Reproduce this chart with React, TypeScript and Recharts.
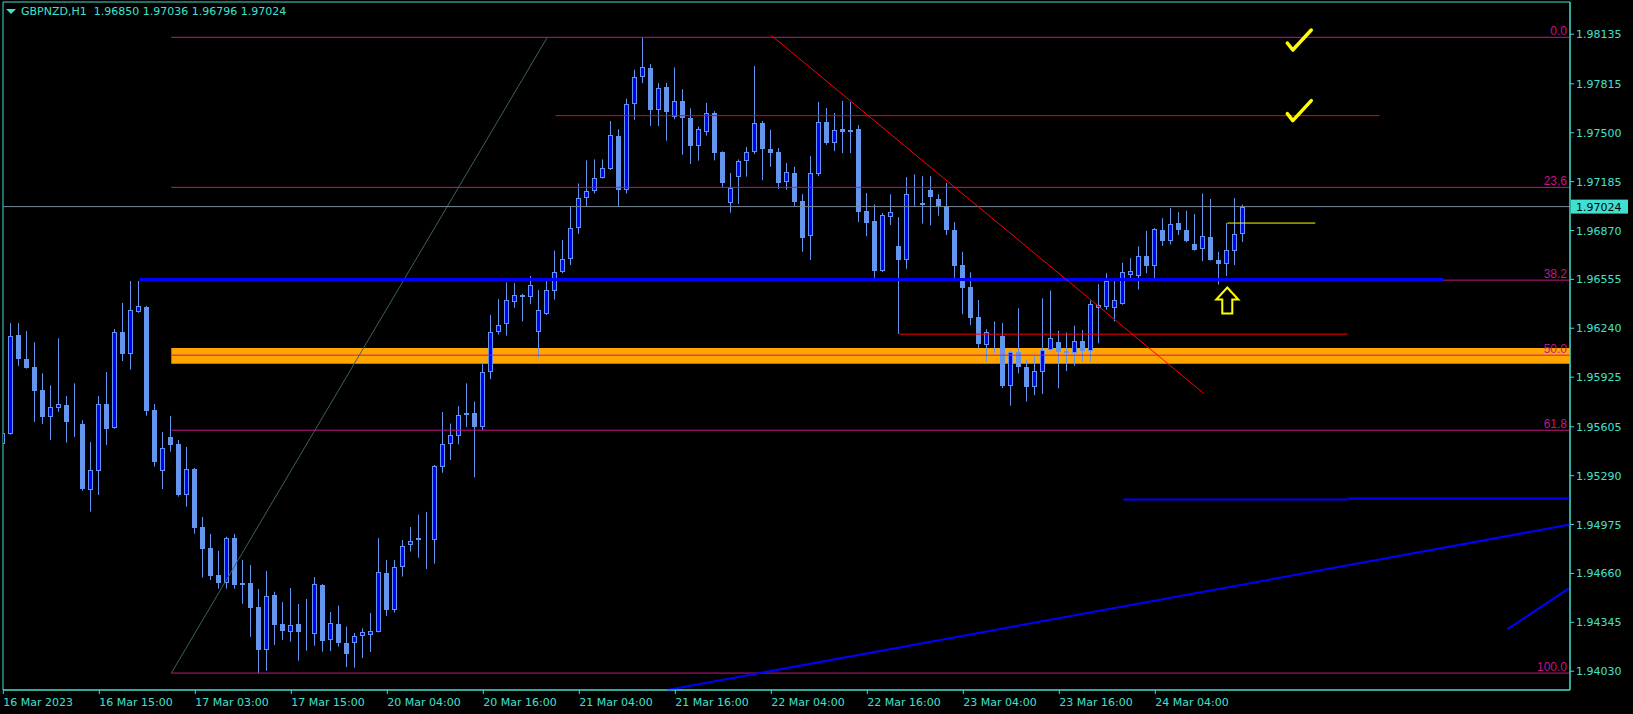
import React from 'react'
import { ComposedChart, Bar, XAxis, YAxis, ReferenceLine, ReferenceArea, ReferenceDot } from 'recharts'

// GBPNZD H1, 156 bars
const openPrices = [
  1.95492, 1.95561, 1.96197, 1.96042, 1.95990, 1.95842, 1.95670, 1.95728, 1.95746, 1.95628,
  1.95623, 1.95200, 1.95322, 1.95752, 1.95599, 1.96216, 1.96076, 1.96347, 1.96377, 1.95711,
  1.95322, 1.95539, 1.95494, 1.95168, 1.95333, 1.94959, 1.94824, 1.94650, 1.94600, 1.94888,
  1.94598, 1.94598, 1.94444, 1.94169, 1.94519, 1.94334, 1.94285, 1.94334, 1.94274, 1.94272,
  1.94586, 1.94231, 1.94334, 1.94212, 1.94209, 1.94259, 1.94265, 1.94285, 1.94664, 1.94423,
  1.94699, 1.94843, 1.94886, 1.94882, 1.94878, 1.95347, 1.95494, 1.95544, 1.95679, 1.95697,
  1.95606, 1.95955, 1.96219, 1.96269, 1.96410, 1.96457, 1.96442, 1.96213, 1.96331, 1.96483,
  1.96601, 1.96688, 1.96888, 1.97082, 1.97123, 1.97211, 1.97264, 1.97478, 1.97129, 1.97683,
  1.97862, 1.97915, 1.97649, 1.97792, 1.97601, 1.97707, 1.97595, 1.97417, 1.97505, 1.97625,
  1.97375, 1.97050, 1.97217, 1.97317, 1.97378, 1.97563, 1.97395, 1.97375, 1.97182, 1.97241,
  1.97061, 1.96833, 1.97234, 1.97569, 1.97437, 1.97525, 1.97505, 1.97525, 1.96997, 1.96929,
  1.96609, 1.96958, 1.96768, 1.96677, 1.97103, 1.97032, 1.97132, 1.97073, 1.97026, 1.96873,
  1.96648, 1.96507, 1.96313, 1.96134, 1.96203, 1.96193, 1.95870, 1.96087, 1.95993, 1.95864,
  1.95961, 1.96102, 1.96149, 1.96094, 1.96080, 1.96158, 1.96096, 1.96369, 1.96374, 1.96369,
  1.96398, 1.96586, 1.96580, 1.96706, 1.96641, 1.96873, 1.96800, 1.96920, 1.96871, 1.96786,
  1.96748, 1.96829, 1.96683, 1.96654, 1.96741, 1.96850,
]
const highPrices = [
  1.95757, 1.96272, 1.96272, 1.96222, 1.96150, 1.95950, 1.95872, 1.96175, 1.95804, 1.95885,
  1.95647, 1.95507, 1.95804, 1.95958, 1.96235, 1.96403, 1.96545, 1.96545, 1.96384, 1.95752,
  1.95572, 1.95675, 1.95520, 1.95475, 1.95340, 1.95024, 1.94914, 1.94805, 1.94897, 1.94914,
  1.94747, 1.94714, 1.94560, 1.94676, 1.94542, 1.94476, 1.94566, 1.94463, 1.94495, 1.94637,
  1.94592, 1.94412, 1.94453, 1.94317, 1.94276, 1.94306, 1.94405, 1.94888, 1.94747, 1.94747,
  1.94876, 1.94959, 1.95039, 1.95056, 1.95359, 1.95700, 1.95626, 1.95738, 1.95885, 1.95767,
  1.96019, 1.96326, 1.96427, 1.96536, 1.96530, 1.96462, 1.96577, 1.96487, 1.96545, 1.96741,
  1.96809, 1.97026, 1.97173, 1.97322, 1.97328, 1.97328, 1.97576, 1.97522, 1.97719, 1.97906,
  1.98112, 1.97942, 1.97819, 1.97821, 1.97921, 1.97780, 1.97657, 1.97540, 1.97692, 1.97639,
  1.97380, 1.97241, 1.97328, 1.97408, 1.97930, 1.97576, 1.97519, 1.97402, 1.97305, 1.97281,
  1.97105, 1.97349, 1.97698, 1.97659, 1.97627, 1.97705, 1.97698, 1.97549, 1.97112, 1.97038,
  1.96983, 1.97103, 1.96956, 1.97214, 1.97232, 1.97220, 1.97220, 1.97103, 1.97176, 1.96924,
  1.96733, 1.96601, 1.96422, 1.96234, 1.96284, 1.96272, 1.96096, 1.96369, 1.96037, 1.96061,
  1.96433, 1.96483, 1.96225, 1.96213, 1.96257, 1.96228, 1.96419, 1.96524, 1.96595, 1.96545,
  1.96662, 1.96692, 1.96768, 1.96867, 1.96886, 1.96950, 1.97014, 1.96988, 1.96997, 1.96976,
  1.97108, 1.97073, 1.96733, 1.96918, 1.97079, 1.97036,
]
const lowPrices = [
  1.95359, 1.95554, 1.95997, 1.95980, 1.95636, 1.95623, 1.95520, 1.95702, 1.95503, 1.95541,
  1.95193, 1.95058, 1.95166, 1.95488, 1.95593, 1.96029, 1.95973, 1.96340, 1.95677, 1.95348,
  1.95204, 1.95445, 1.95155, 1.95090, 1.94916, 1.94633, 1.94618, 1.94562, 1.94562, 1.94562,
  1.94465, 1.94252, 1.94017, 1.94033, 1.94199, 1.94231, 1.94220, 1.94098, 1.94162, 1.94194,
  1.94156, 1.94160, 1.94189, 1.94057, 1.94053, 1.94115, 1.94154, 1.94280, 1.94386, 1.94408,
  1.94640, 1.94801, 1.94761, 1.94689, 1.94723, 1.95309, 1.95391, 1.95492, 1.95604, 1.95280,
  1.95582, 1.95911, 1.96199, 1.96193, 1.96372, 1.96284, 1.96395, 1.96052, 1.96325, 1.96425,
  1.96595, 1.96648, 1.96848, 1.97026, 1.97108, 1.97205, 1.97260, 1.97026, 1.97108, 1.97583,
  1.97819, 1.97543, 1.97543, 1.97449, 1.97587, 1.97358, 1.97299, 1.97320, 1.97481, 1.97322,
  1.97147, 1.96985, 1.97041, 1.97217, 1.97363, 1.97194, 1.97281, 1.97137, 1.97132, 1.97029,
  1.96733, 1.96680, 1.97220, 1.97422, 1.97381, 1.97369, 1.97369, 1.96924, 1.96833, 1.96565,
  1.96603, 1.96906, 1.96204, 1.96624, 1.97029, 1.96915, 1.96903, 1.96965, 1.96841, 1.96565,
  1.96331, 1.96260, 1.96110, 1.96023, 1.96081, 1.95855, 1.95741, 1.95949, 1.95767, 1.95808,
  1.95817, 1.96095, 1.95853, 1.95964, 1.95999, 1.96023, 1.96023, 1.96143, 1.96360, 1.96284,
  1.96392, 1.96565, 1.96489, 1.96595, 1.96545, 1.96771, 1.96780, 1.96841, 1.96795, 1.96740,
  1.96673, 1.96676, 1.96521, 1.96577, 1.96648, 1.96796,
]
const closePrices = [
  1.95563, 1.96188, 1.96042, 1.95986, 1.95838, 1.95670, 1.95731, 1.95750, 1.95636, 1.95630,
  1.95202, 1.95325, 1.95750, 1.95591, 1.96214, 1.96074, 1.96356, 1.96382, 1.95707, 1.95378,
  1.95466, 1.95490, 1.95166, 1.95331, 1.94955, 1.94820, 1.94646, 1.94600, 1.94888, 1.94588,
  1.94588, 1.94439, 1.94169, 1.94513, 1.94330, 1.94291, 1.94326, 1.94285, 1.94276, 1.94590,
  1.94227, 1.94341, 1.94212, 1.94138, 1.94259, 1.94283, 1.94289, 1.94669, 1.94423, 1.94699,
  1.94834, 1.94872, 1.94876, 1.94884, 1.95354, 1.95494, 1.95553, 1.95679, 1.95697, 1.95604,
  1.95961, 1.96219, 1.96263, 1.96425, 1.96457, 1.96442, 1.96521, 1.96360, 1.96487, 1.96601,
  1.96688, 1.96888, 1.97082, 1.97123, 1.97211, 1.97270, 1.97484, 1.97129, 1.97683, 1.97862,
  1.97921, 1.97649, 1.97786, 1.97636, 1.97707, 1.97598, 1.97413, 1.97522, 1.97625, 1.97372,
  1.97179, 1.97144, 1.97320, 1.97378, 1.97563, 1.97393, 1.97372, 1.97179, 1.97246, 1.97056,
  1.96820, 1.97241, 1.97569, 1.97431, 1.97519, 1.97502, 1.97516, 1.96991, 1.96920, 1.96609,
  1.96970, 1.96988, 1.96677, 1.97103, 1.97108, 1.97047, 1.97085, 1.97026, 1.96873, 1.96639,
  1.96501, 1.96307, 1.96140, 1.96213, 1.96205, 1.95867, 1.96087, 1.95993, 1.95864, 1.95964,
  1.96102, 1.96175, 1.96090, 1.96078, 1.96161, 1.96096, 1.96395, 1.96393, 1.96545, 1.96419,
  1.96603, 1.96609, 1.96706, 1.96639, 1.96877, 1.96800, 1.96915, 1.96871, 1.96800, 1.96744,
  1.96833, 1.96680, 1.96656, 1.96744, 1.96850, 1.97024,
]

const timeTickBars = [0, 12, 24, 36, 48, 60, 72, 84, 96, 108, 120, 132, 144]
const timeTickLabels = [
  '16 Mar 2023', '16 Mar 15:00', '17 Mar 03:00', '17 Mar 15:00', '20 Mar 04:00',
  '20 Mar 16:00', '21 Mar 04:00', '21 Mar 16:00', '22 Mar 04:00', '22 Mar 16:00',
  '23 Mar 04:00', '23 Mar 16:00', '24 Mar 04:00',
]
const priceTicks = [
  1.9403, 1.94345, 1.9466, 1.94975, 1.9529, 1.95605, 1.95925,
  1.9624, 1.96555, 1.9687, 1.97185, 1.975, 1.97815, 1.98135,
]

// fibonacci retracement drawn from the 17 Mar low to the 21 Mar high
const fibLevels = [0, 23.6, 38.2, 50, 61.8, 100]
const fibLabels = ['0.0', '23,6', '38.2', '50.0', '61.8', '100.0']
const fibHigh = 1.98115
const fibLow = 1.94018
const fibStartBar = 21
const fibEndBar = 68

// hand drawn objects
const orangeZone = [1.96011, 1.96113]
const blueLevel = 1.96555
const blueLevelBars = [17, 180]
const redLevelTop = 1.9761
const redLevelTopBars = [69, 172]
const redLevelLow = 1.96202
const redLevelLowBars = [112, 168]
const redTrendBars = [96, 150]
const redTrendPrices = [1.98127, 1.95823]
const yellowLevel = 1.96918
const yellowLevelBars = [153, 164]
const blueLowLevel = [1.95137, 1.95143]
const blueLowBars = [140, 168]
const blueTrendBars = [83, 195.84]
const blueTrendPrices = [1.93909, 1.94975]
const blueShortBars = [188, 195.7]
const blueShortPrices = [1.943, 1.94564]
const checkBars = [162, 162]
const checkPrices = [1.98091, 1.97636]
const arrowBar = 153
const arrowPrice = 1.96419

const X_MIN = -0.0375
const X_MAX = 195.84
const Y_MIN = 1.939089
const Y_MAX = 1.983425

const FG = '#40E0D0'
const FONT = "'DejaVu Sans', sans-serif"
const WICK = '#6495ED'
const BULL = '#0000FF'
const FIB = '#c71585'

const data = openPrices.map((o, i) => ({
  i,
  open: o,
  high: highPrices[i],
  low: lowPrices[i],
  close: closePrices[i],
  hl: [lowPrices[i], highPrices[i]],
}))

const Candle = (props: any) => {
  const { x, y, width, height, payload } = props
  if (!payload) return null
  const { open, close, high, low } = payload
  const top = Math.min(y, y + height)
  const h = Math.abs(height)
  const k = high > low ? h / (high - low) : 0
  const cx = Math.floor(x + width / 2) + 0.5
  const bTop = Math.round(top + (high - Math.max(open, close)) * k)
  let bBot = Math.round(top + (high - Math.min(open, close)) * k)
  if (bBot - bTop < 1) bBot = bTop + 1
  const bull = close >= open
  return (
    <g>
      <line x1={cx} x2={cx} y1={top} y2={top + h} stroke={WICK} strokeWidth={1} />
      <rect
        x={cx - 2}
        y={bTop + 0.5}
        width={4}
        height={Math.max(bBot - bTop - 1, 0)}
        fill={bull ? BULL : WICK}
        stroke={WICK}
        strokeWidth={1}
      />
    </g>
  )
}

const TimeTick = (props: any) => {
  const { x, y, payload } = props
  const idx = timeTickBars.indexOf(payload.value)
  return (
    <text x={x} y={y + 10} fill={FG} fontSize={11} fontFamily={FONT}>
      {timeTickLabels[idx]}
    </text>
  )
}

const PriceTick = (props: any) => {
  const { x, y, payload } = props
  return (
    <text x={x} y={y + 4} fill={FG} fontSize={11} fontFamily={FONT}>
      {Number(payload.value).toFixed(5)}
    </text>
  )
}

const CheckMark = ({ cx, cy }: any) => (
  <path
    d={`M${cx - 12},${cy + 2} L${cx - 6.5},${cy + 9} L${cx + 12},${cy - 11}`}
    stroke="#FFFF00"
    strokeWidth={3.5}
    fill="none"
    strokeLinejoin="round"
    strokeLinecap="round"
  />
)

const UpArrow = ({ cx, cy }: any) => (
  <path
    d={`M${cx},${cy - 13} L${cx + 11},${cy - 1} L${cx + 5},${cy - 1} L${cx + 5},${cy + 13} L${cx - 5},${cy + 13} L${cx - 5},${cy - 1} L${cx - 11},${cy - 1} Z`}
    stroke="#FFFF00"
    strokeWidth={2}
    fill="none"
  />
)

const fibPrice = (lvl: number) => fibHigh - ((fibHigh - fibLow) * lvl) / 100

const App = () => {
  const last = data[data.length - 1]
  const header = `GBPNZD,H1  ${last.open.toFixed(5)} ${last.high.toFixed(5)} ${last.low.toFixed(5)} ${last.close.toFixed(5)}`

  return (
    <div style={{ position: 'absolute', left: 0, top: 0, width: 1633, height: 714, background: '#000' }}>
      <ComposedChart width={1633} height={714} data={data} margin={{ top: 2, right: 0, bottom: 0, left: 3 }}>
        <XAxis
          dataKey="i"
          type="number"
          domain={[X_MIN, X_MAX]}
          allowDataOverflow
          ticks={timeTickBars}
          interval={0}
          height={24}
          tickSize={4}
          tickMargin={2}
          stroke={FG}
          tick={<TimeTick />}
        />
        <YAxis
          orientation="right"
          type="number"
          domain={[Y_MIN, Y_MAX]}
          allowDataOverflow
          ticks={priceTicks}
          interval={0}
          width={63}
          tickSize={4}
          tickMargin={2}
          stroke={FG}
          tick={<PriceTick />}
        />

        <ReferenceArea x1={fibStartBar} x2={X_MAX} y1={orangeZone[0]} y2={orangeZone[1]} fill="#FFA500" fillOpacity={1} stroke="none" />

        {fibLevels.map((lvl) => (
          <ReferenceLine
            key={`fib${lvl}`}
            segment={[{ x: fibStartBar, y: fibPrice(lvl) }, { x: X_MAX, y: fibPrice(lvl) }]}
            stroke={FIB}
            strokeWidth={1}
            ifOverflow="visible"
          />
        ))}
        <ReferenceLine
          segment={[{ x: fibStartBar, y: fibLow }, { x: fibEndBar, y: fibHigh }]}
          stroke="#3e6060"
          strokeWidth={1}
          ifOverflow="visible"
        />
        <ReferenceLine y={last.close} stroke="#7b8a99" strokeWidth={1} />

        <Bar dataKey="hl" barSize={5} isAnimationActive={false} shape={(p: any) => <Candle {...p} />} />

        <ReferenceLine
          segment={[{ x: blueLevelBars[0], y: blueLevel }, { x: blueLevelBars[1], y: blueLevel }]}
          stroke="#0000FF"
          strokeWidth={3}
          ifOverflow="visible"
        />
        <ReferenceLine
          segment={[{ x: redLevelTopBars[0], y: redLevelTop }, { x: redLevelTopBars[1], y: redLevelTop }]}
          stroke="#FF0000"
          strokeWidth={1}
        />
        <ReferenceLine
          segment={[{ x: redLevelLowBars[0], y: redLevelLow }, { x: redLevelLowBars[1], y: redLevelLow }]}
          stroke="#FF0000"
          strokeWidth={1}
        />
        <ReferenceLine
          segment={[{ x: redTrendBars[0], y: redTrendPrices[0] }, { x: redTrendBars[1], y: redTrendPrices[1] }]}
          stroke="#FF0000"
          strokeWidth={1}
        />
        <ReferenceLine
          segment={[{ x: yellowLevelBars[0], y: yellowLevel }, { x: yellowLevelBars[1], y: yellowLevel }]}
          stroke="#FFFF00"
          strokeWidth={1}
        />
        <ReferenceLine
          segment={[{ x: blueLowBars[0], y: blueLowLevel[0] }, { x: blueLowBars[1], y: blueLowLevel[0] }]}
          stroke="#0000FF"
          strokeWidth={2}
        />
        <ReferenceLine
          segment={[{ x: blueLowBars[1], y: blueLowLevel[1] }, { x: X_MAX, y: blueLowLevel[1] }]}
          stroke="#0000FF"
          strokeWidth={2}
          ifOverflow="visible"
        />
        <ReferenceLine
          segment={[{ x: blueTrendBars[0], y: blueTrendPrices[0] }, { x: blueTrendBars[1], y: blueTrendPrices[1] }]}
          stroke="#0000FF"
          strokeWidth={2}
          ifOverflow="visible"
        />
        <ReferenceLine
          segment={[{ x: blueShortBars[0], y: blueShortPrices[0] }, { x: blueShortBars[1], y: blueShortPrices[1] }]}
          stroke="#0000FF"
          strokeWidth={2}
          ifOverflow="visible"
        />

        {fibLevels.map((lvl, k) => (
          <ReferenceDot
            key={`fibl${lvl}`}
            x={X_MAX}
            y={fibPrice(lvl)}
            r={0}
            ifOverflow="visible"
            shape={(p: any) => (
              <text x={p.cx - 3} y={p.cy - 2} textAnchor="end" fill={FIB} fontSize={12} fontFamily="'Liberation Sans', Arial, sans-serif">
                {fibLabels[k]}
              </text>
            )}
          />
        ))}

        {checkBars.map((b, k) => (
          <ReferenceDot key={`chk${k}`} x={b} y={checkPrices[k]} r={0} ifOverflow="visible" shape={(p: any) => <CheckMark {...p} />} />
        ))}
        <ReferenceDot x={arrowBar} y={arrowPrice} r={0} ifOverflow="visible" shape={(p: any) => <UpArrow {...p} />} />

        <ReferenceDot
          x={X_MAX}
          y={last.close}
          r={0}
          ifOverflow="visible"
          shape={(p: any) => (
            <g>
              <rect x={p.cx + 1} y={p.cy - 7} width={57} height={14} fill={FG} />
              <text x={p.cx + 6} y={p.cy + 4} fill="#000" fontSize={11} fontFamily={FONT}>
                {last.close.toFixed(5)}
              </text>
            </g>
          )}
        />

        <ReferenceArea x1={X_MIN} x2={X_MAX} y1={Y_MIN} y2={Y_MAX} fill="none" stroke={FG} strokeWidth={1} ifOverflow="visible" />
      </ComposedChart>

      <div
        style={{
          position: 'absolute',
          left: 6,
          top: 5,
          color: FG,
          fontFamily: FONT,
          fontSize: 11,
          lineHeight: '14px',
          whiteSpace: 'pre',
          display: 'flex',
          alignItems: 'center',
        }}
      >
        <svg width={10} height={6} style={{ marginRight: 5 }}>
          <polygon points="0,0 10,0 5,5" fill={FG} />
        </svg>
        {header}
      </div>
    </div>
  )
}

export default App
